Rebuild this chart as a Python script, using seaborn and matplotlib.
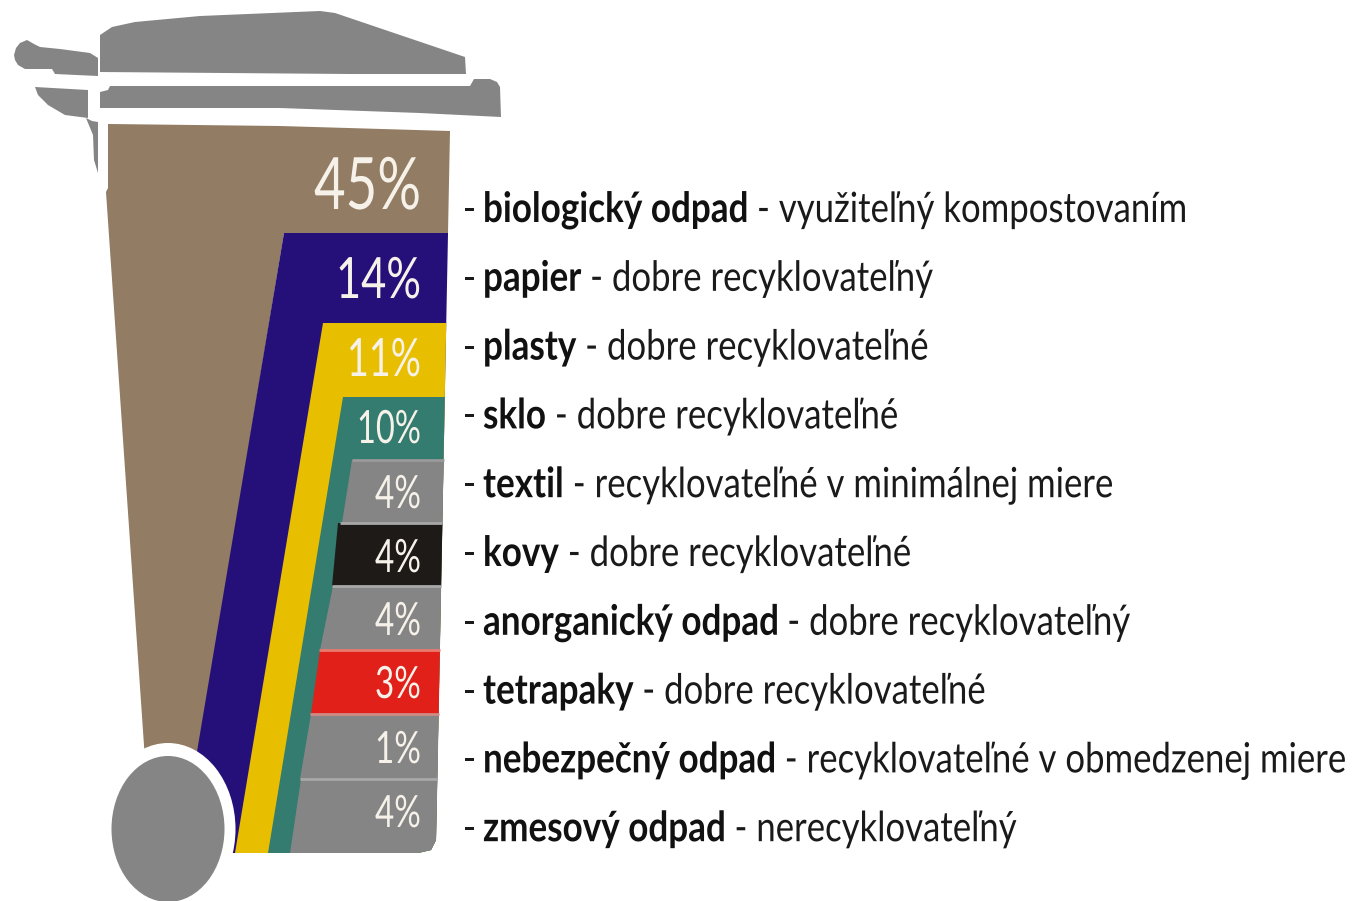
import matplotlib
matplotlib.use("Agg")
import matplotlib.pyplot as plt
from matplotlib.patches import Polygon, Ellipse
from matplotlib.patheffects import AbstractPathEffect
from matplotlib.text import Text
from matplotlib.transforms import Affine2D, Bbox
import pandas as pd
import seaborn as sns

categories = ["biologický odpad", "papier", "plasty", "sklo", "textil", "kovy",
              "anorganický odpad", "tetrapaky", "nebezpečný odpad", "zmesový odpad"]
shares = [45, 14, 11, 10, 4, 4, 4, 3, 1, 4]
notes = ["využiteľný kompostovaním", "dobre recyklovateľný", "dobre recyklovateľné",
         "dobre recyklovateľné", "recyklovateľné v minimálnej miere", "dobre recyklovateľné",
         "dobre recyklovateľný", "dobre recyklovateľné",
         "recyklovateľné v obmedzenej miere", "nerecyklovateľný"]

# styling / pictogram layout (pixels of the 1358x901 canvas)
colors = ["#927c63", "#25107a", "#e8bf00", "#347b70", "#858585",
          "#1e1a18", "#858585", "#e1201a", "#858585", "#858585"]
GREY = "#858585"
bands = [  # top, bottom, left at top, left at bottom
    (124, 853, 108, 145),
    (233, 853, 284, 180),
    (323, 853, 323, 235),
    (397, 853, 343, 268),
    (460, 523, 352, 342),
    (523, 586, 338, 332),
    (586, 650, 333, 320),
    (650, 714, 320, 311),
    (714, 779, 311, 300),
    (779, 853, 301, 290),
]
separators = [(460, 352, "#9a9a9a"), (523, 340, "#a8a8a8"), (586, 332, "#a8a8a8"),
              (650, 319, "#e87a70"), (714, 310, "#d08a84"), (779, 300, "#a8a8a8")]
label_size = [52, 41, 38, 33, 33, 33, 33, 32, 32, 32]
label_base = [209, 298, 376, 443, 508, 572, 635, 698, 763, 827]
label_width = [107, 85, 74, 64, 46, 46, 46, 46, 46, 46]
FAM = ["Lato", "DejaVu Sans"]


def right_edge(y):
    return 450 - (y - 131) * 14 / 722


class Squeeze(AbstractPathEffect):
    """Narrow the glyph outlines horizontally about a fixed pixel column."""
    def __init__(self, sx, x0):
        super().__init__()
        self.sx, self.x0 = sx, x0

    def draw_path(self, renderer, gc, tpath, affine, rgbFace=None):
        extra = Affine2D().translate(-self.x0, 0).scale(self.sx, 1).translate(self.x0, 0)
        renderer.draw_path(gc, tpath, affine + extra, rgbFace)


class NarrowText(Text):
    """Real text in a condensed cut; its extent reports the squeezed width."""
    def squeeze_to(self, sx):
        self._sx = sx
        x0 = self.get_position()[0]
        self.set_path_effects([Squeeze(sx, x0)])

    def get_window_extent(self, renderer=None, dpi=None):
        bb = super().get_window_extent(renderer, dpi)
        sx = getattr(self, "_sx", 1)
        x0 = self.get_position()[0]
        return Bbox.from_extents(x0 + (bb.x0 - x0) * sx, bb.y0, x0 + (bb.x1 - x0) * sx, bb.y1)


def put(ax, x, y, s, width=None, sx=None, **kw):
    t = NarrowText(x, y, s, family=FAM, va="baseline", **kw)
    ax.add_artist(t)
    t.set_clip_on(False)
    rend = ax.figure.canvas.get_renderer()
    raw = Text.get_window_extent(t, rend).width
    if sx is None:
        sx = width / raw
    t.squeeze_to(sx)
    return x + raw * sx if kw.get("ha", "left") == "left" else x


sns.set_theme(style="white")
fig = plt.figure(figsize=(13.58, 9.01), dpi=100, facecolor="white")
ax = fig.add_axes([0, 0, 1, 1])

for i, (cat, col, b) in enumerate(zip(categories, colors, bands)):
    top, bot, lt, lb = b
    rt, rb = right_edge(top), right_edge(bot)
    if i == 0:
        verts = [(108, 124), (280, 126), (450, 131), (448, 233), (284, 233), (197, 760),
                 (145, 760), (106, 192), (108, 188)]
    elif bot == 853:
        verts = [(lt, top), (rt, top), (rb, 840), (431, 850), (418, 853), (lb, bot)]
    else:
        verts = [(lt, top), (rt, top), (rb, bot), (lb, bot)]
    before = len(ax.patches)
    frame = pd.DataFrame({"edge": [max(rt, rb) + 2], "row": [(top + bot) / 2]})
    sns.barplot(data=frame, x="edge", y="row", orient="h", native_scale=True,
                width=bot - top, color=col, saturation=1, ax=ax, zorder=2 + i * 0.1)
    for p in ax.patches[before:]:
        p.set_linewidth(0)
        p.set_clip_path(Polygon(verts, transform=ax.transData))

for y, x, c in separators:
    ax.plot([x, right_edge(y)], [y, y], color=c, lw=2.0, solid_capstyle="butt", zorder=3)

# lid pieces, drawn as pictogram shapes
lid = [
    [(100, 35), (112, 27), (135, 22), (200, 16), (320, 11), (335, 13), (465, 57), (466, 74),
     (350, 74), (100, 72)],
    [(14, 55), (16, 48), (20, 43), (27, 40), (34, 44), (40, 47), (60, 49), (90, 53), (98, 58),
     (98, 76), (55, 74), (52, 69), (25, 69), (18, 65), (15, 60)],
    [(100, 92), (108, 90), (110, 86), (470, 86), (474, 79), (490, 79), (497, 82), (500, 87),
     (501, 117), (420, 113), (280, 108), (100, 108)],
    [(35, 87), (88, 90), (88, 118), (65, 115), (48, 105), (38, 95)],
    [(86, 118), (92, 121), (98, 122), (98, 173), (94, 160), (93, 135)],
]
for v in lid:
    ax.add_patch(Polygon(v, closed=True, facecolor=GREY, edgecolor="none", zorder=3))

# wheel
ax.add_patch(Ellipse((168, 829), 135, 172, facecolor="white", edgecolor="none", zorder=4))
ax.add_patch(Ellipse((168, 829), 113, 146, facecolor=GREY, edgecolor="none", zorder=5))

ax.set_xlim(0, 1358)
ax.set_ylim(901, 0)
ax.set_xlabel("")
ax.set_ylabel("")
ax.axis("off")
fig.canvas.draw()

# percentage labels
for v, y, s, w in zip(shares, label_base, label_size, label_width):
    put(ax, 421, y, f"{v}%", width=w, ha="right", fontsize=s, color="#f6f2ea", zorder=6)

# legend lines: bold name + regular note
rend = fig.canvas.get_renderer()
probe = Text(0, 0, categories[0], family=FAM, fontsize=30, fontweight="bold")
probe.set_figure(fig)
bold_sx = 265 / probe.get_window_extent(rend).width
probe = Text(0, 0, "- " + notes[0], family=FAM, fontsize=30)
probe.set_figure(fig)
reg_sx = 430 / probe.get_window_extent(rend).width
for i, (cat, note) in enumerate(zip(categories, notes)):
    y = 222 + i * 68.8
    put(ax, 463, y, "-", sx=0.85, fontsize=30, color="#1a1a1a")
    end = put(ax, 483, y, cat, sx=bold_sx, fontsize=30, fontweight="bold", color="#111111")
    put(ax, end + 9, y, "- " + note, sx=reg_sx, fontsize=30, color="#1a1a1a")

fig.savefig("out.png", dpi=100, facecolor="white")
